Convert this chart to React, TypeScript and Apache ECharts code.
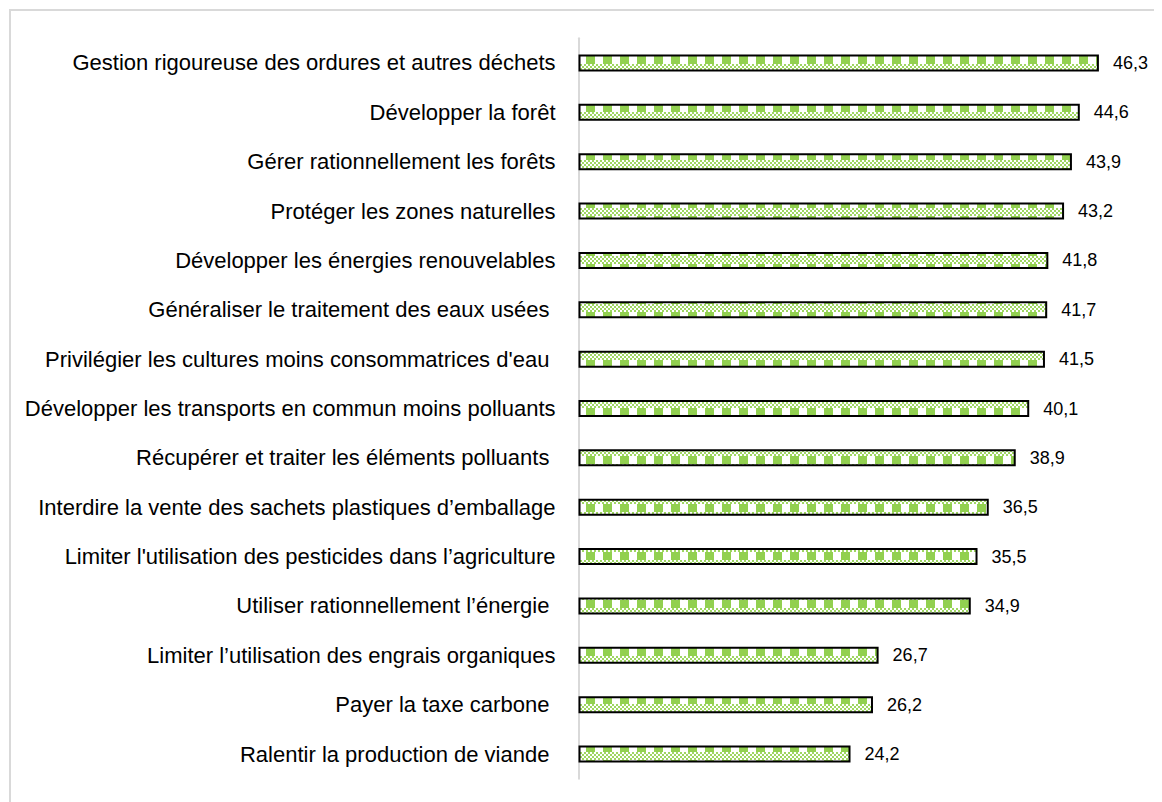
import React, { useEffect, useRef } from "react";
import * as echarts from "echarts";

const categories: string[] = [
  "Gestion rigoureuse des ordures et autres déchets",
  "Développer la forêt",
  "Gérer rationnellement les forêts",
  "Protéger les zones naturelles",
  "Développer les énergies renouvelables",
  "Généraliser le traitement des eaux usées\u00a0",
  "Privilégier les cultures moins consommatrices d'eau\u00a0",
  "Développer les transports en commun moins polluants",
  "Récupérer et traiter les éléments polluants\u00a0",
  "Interdire la vente des sachets plastiques d’emballage",
  "Limiter l'utilisation des pesticides dans l’agriculture",
  "Utiliser rationnellement l’énergie\u00a0",
  "Limiter l’utilisation des engrais organiques",
  "Payer la taxe carbone\u00a0",
  "Ralentir la production de viande\u00a0",
];

const values: number[] = [46.3, 44.6, 43.9, 43.2, 41.8, 41.7, 41.5, 40.1, 38.9, 36.5, 35.5, 34.9, 26.7, 26.2, 24.2];

const GREEN = "#92D050";

function makePattern() {
  const w = 68;
  const h = 16;
  const c = document.createElement("canvas");
  c.width = w;
  c.height = h;
  const ctx = c.getContext("2d")!;
  ctx.fillStyle = "#ffffff";
  ctx.fillRect(0, 0, w, h);
  ctx.fillStyle = GREEN;
  for (let x = 0; x < w; x += 17) {
    ctx.fillRect(x, 0, 9, 8);
  }
  ctx.fillStyle = "#9fd662";
  for (let y = 8; y < h; y += 2) {
    for (let x = 0; x < w; x += 2) {
      if ((x / 2 + y / 2) % 2 === 0) ctx.fillRect(x, y, 2, 2);
    }
  }
  return { url: c.toDataURL("image/png"), w, h };
}

export default function App() {
  const ref = useRef<HTMLDivElement>(null);
  useEffect(() => {
    if (!ref.current) return;
    const chart = echarts.init(ref.current, null, { renderer: "svg" });
    const pat = makePattern();
    const fill: any = {
      image: pat.url,
      repeat: "repeat",
      imageWidth: pat.w,
      imageHeight: pat.h,
    };
    chart.setOption({
      animation: false,
      backgroundColor: "#ffffff",
      graphic: [
        {
          type: "rect",
          shape: { x: 2, y: 2, width: 1300, height: 1000 },
          style: { fill: "none", stroke: "#d9d9d9", lineWidth: 2 },
          silent: true,
        },
      ],
      grid: { left: 570.5, right: 21.5, top: 30.3, bottom: 23.3 },
      xAxis: {
        type: "value",
        min: 0,
        max: 50,
        show: false,
      },
      yAxis: {
        type: "category",
        inverse: true,
        data: categories,
        axisLine: { show: true, lineStyle: { color: "#d9d9d9", width: 2 } },
        axisTick: { show: false },
        splitLine: { show: false },
        axisLabel: {
          fontSize: 22,
          fontFamily: "'Liberation Sans', Arial, sans-serif",
          color: "#000000",
          margin: 23,
        },
      },
      series: [
        {
          type: "bar",
          data: values,
          barWidth: 17,
          itemStyle: {
            color: fill,
            borderColor: "#000000",
            borderWidth: 2,
          },
          label: {
            show: true,
            position: "right",
            distance: 14,
            fontSize: 18,
            fontFamily: "'Liberation Sans', Arial, sans-serif",
            color: "#000000",
            formatter: (p: any) => p.value.toFixed(1).replace(".", ","),
          },
        },
      ],
    });
    return () => chart.dispose();
  }, []);
  return <div ref={ref} style={{ width: 1154, height: 794 }} />;
}
